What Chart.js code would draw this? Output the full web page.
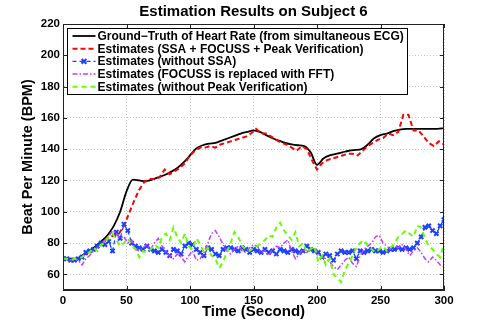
<!DOCTYPE html>
<html>
<head>
<meta charset="utf-8">
<script src="https://cdn.jsdelivr.net/npm/chart.js@4.4.1/dist/chart.umd.min.js"></script>
<style>
  html, body { margin: 0; padding: 0; background: #fff; }
</style>
</head>
<body>
<canvas id="myChart" width="491" height="327"></canvas>
<script>
const FONT = '"Liberation Sans", Arial, Helvetica, sans-serif';

const xTicks = [0, 50, 100, 150, 200, 250, 300];
const yTicks = [60, 80, 100, 120, 140, 160, 180, 200, 220];

const labels = [
  'Ground\u2212Truth of Heart Rate (from simultaneous ECG)',
  'Estimates (SSA + FOCUSS + Peak Verification)',
  'Estimates (without SSA)',
  'Estimates (FOCUSS is replaced with FFT)',
  'Estimates (without Peak Verification)'
];

// ground truth, every 5 s
const tGt = [0, 5, 10, 15, 20, 25, 30, 35, 40, 45,
  50, 55, 60, 65, 70, 75, 80, 85, 90, 95,
  100, 105, 110, 115, 120, 125, 130, 135, 140, 145,
  150, 155, 160, 165, 170, 175, 180, 185, 190, 195,
  200, 205, 210, 215, 220, 225, 230, 235, 240, 245,
  250, 255, 260, 265, 270, 275, 280, 285, 290, 295, 300];
const gt = [70, 70, 70, 72, 74.5, 77.5, 81, 85, 91, 100,
  113, 120.5, 120, 119.5, 120.5, 122, 123.5, 125.5, 128, 131.5,
  136, 140.5, 142.5, 143.5, 144, 145.5, 147, 148.5, 150, 151,
  152, 151, 149, 147, 145.5, 144, 143, 142.5, 142, 138,
  130, 134, 136, 137, 138, 139, 139.5, 140, 143, 147,
  149, 150, 151.5, 152.5, 153, 153, 153, 153, 153, 153, 153.5];

// SSA + FOCUSS + peak verification, every 4 s
const tRed = [0, 4, 8, 12, 16, 20, 24, 28, 32, 36,
  40, 44, 48, 52, 56, 60, 64, 68, 72, 76,
  80, 84, 88, 92, 96, 100, 104, 108, 112, 116,
  120, 124, 128, 132, 136, 140, 144, 148, 152, 156,
  160, 164, 168, 172, 176, 180, 184, 188, 192, 196,
  200, 204, 208, 212, 216, 220, 224, 228, 232, 236,
  240, 244, 248, 252, 256, 260, 264, 268, 272, 276,
  280, 284, 288, 292, 296, 300];
const red = [70, 70, 69, 70, 71, 74, 76, 79, 81, 83,
  85, 86, 91, 99, 107, 114, 119, 121, 121, 122,
  127, 124, 126, 128, 131, 136, 139, 141, 141, 142,
  141, 143, 144, 145, 146, 147, 148, 150, 153, 150,
  150, 148, 146, 144, 143, 141, 139, 142, 140, 133,
  127, 131, 133, 134, 135, 136, 137, 137, 136, 139,
  142, 144, 146, 147, 150, 149, 151, 162, 162, 152,
  152, 148, 144, 142, 145, 143];

// the three other estimates, every 3 s
const tEst = [0, 3, 6, 9, 12, 15, 18, 21, 24, 27,
  30, 33, 36, 39, 42, 45, 48, 51, 54, 57,
  60, 63, 66, 69, 72, 75, 78, 81, 84, 87,
  90, 93, 96, 99, 102, 105, 108, 111, 114, 117,
  120, 123, 126, 129, 132, 135, 138, 141, 144, 147,
  150, 153, 156, 159, 162, 165, 168, 171, 174, 177,
  180, 183, 186, 189, 192, 195, 198, 201, 204, 207,
  210, 213, 216, 219, 222, 225, 228, 231, 234, 237,
  240, 243, 246, 249, 252, 255, 258, 261, 264, 267,
  270, 273, 276, 279, 282, 285, 288, 291, 294, 297, 300];
const noSsa = [70, 70, 69, 69, 70, 71, 74, 75, 76, 78,
  80, 79, 81, 75, 87, 83, 92, 88, 80, 78,
  77, 76, 78, 76, 75, 74, 76, 74, 72, 76,
  75, 73, 78, 80, 79, 76, 74, 72, 77, 76,
  73, 72, 76, 77, 77, 76, 75, 77, 76, 74,
  76, 75, 74, 76, 74, 75, 73, 76, 75, 74,
  76, 75, 74, 75, 78, 76, 75, 74, 71, 73,
  72, 69, 73, 75, 74, 74, 75, 70, 75, 74,
  75, 76, 75, 75, 74, 75, 76, 76, 77, 76,
  77, 76, 77, 80, 84, 90, 91, 88, 86, 91, 95];
const fft = [70, 70, 69, 70, 69, 66, 70, 72, 75, 77,
  79, 81, 84, 88, 86, 83, 84, 80, 82, 76,
  75, 77, 79, 76, 80, 83, 78, 74, 72, 70,
  73, 71, 68, 72, 75, 69, 70, 74, 80, 86,
  88, 84, 79, 75, 73, 76, 78, 75, 74, 77,
  79, 78, 74, 75, 72, 76, 78, 77, 80, 82,
  75, 70, 73, 76, 74, 77, 76, 73, 71, 70,
  68, 65, 63, 66, 69, 71, 67, 65, 72, 76,
  78, 80, 84, 85, 80, 78, 76, 78, 77, 79,
  76, 72, 75, 77, 74, 70, 68, 71, 69, 66, 65];
const noPv = [70, 70, 69, 70, 70, 71, 73, 74, 77, 75,
  79, 80, 84, 86, 82, 78, 80, 83, 79, 76,
  71, 75, 74, 76, 79, 77, 84, 86, 82, 90,
  84, 80, 86, 78, 76, 83, 79, 74, 77, 72,
  70, 64, 68, 74, 80, 87, 84, 78, 76, 75,
  77, 78, 80, 82, 85, 84, 90, 93, 88, 85,
  82, 87, 78, 80, 74, 76, 78, 68, 72, 66,
  70, 60, 58, 55, 63, 67, 72, 77, 80, 82,
  78, 76, 74, 76, 78, 75, 77, 80, 84, 86,
  88, 86, 84, 91, 90, 83, 78, 76, 73, 71, 80];

function pts(t, v) {
  return t.map((x, i) => ({ x: x, y: v[i] }));
}

// matlab style box, inward ticks and legend inside the axes
const matlabBox = {
  id: 'matlabBox',
  afterDraw(chart) {
    const { ctx, chartArea: a, scales } = chart;
    ctx.save();
    ctx.strokeStyle = '#222';
    ctx.lineWidth = 1;
    ctx.setLineDash([]);
    ctx.beginPath();
    xTicks.forEach(v => {
      const px = Math.round(scales.x.getPixelForValue(v)) + 0.5;
      ctx.moveTo(px, a.bottom); ctx.lineTo(px, a.bottom - 4);
      ctx.moveTo(px, a.top); ctx.lineTo(px, a.top + 4);
    });
    yTicks.forEach(v => {
      const py = Math.round(scales.y.getPixelForValue(v)) + 0.5;
      ctx.moveTo(a.left, py); ctx.lineTo(a.left + 4, py);
      ctx.moveTo(a.right, py); ctx.lineTo(a.right - 4, py);
    });
    ctx.stroke();
    ctx.strokeRect(Math.round(a.left) + 0.5, Math.round(a.top) + 0.5,
      Math.round(a.width) - 1, Math.round(a.height) - 1);

    // legend
    const sets = chart.data.datasets;
    ctx.font = 'bold 12px ' + FONT;
    const tw = Math.max(...sets.map(d => ctx.measureText(d.label).width));
    const bx = Math.round(a.left) + 4.5, by = Math.round(a.top) + 4.5, rowH = 12.7;
    const bw = Math.round(31 + tw + 3), bh = Math.round(sets.length * rowH + 2);
    ctx.fillStyle = '#fff';
    ctx.fillRect(bx, by, bw, bh);
    ctx.strokeStyle = '#000';
    ctx.strokeRect(bx, by, bw, bh);
    sets.forEach((d, i) => {
      const cy = by + 7.5 + i * rowH;
      ctx.strokeStyle = d.borderColor;
      ctx.lineWidth = d.borderWidth;
      ctx.setLineDash(d.borderDash || []);
      ctx.beginPath();
      ctx.moveTo(bx + 5, cy);
      ctx.lineTo(bx + 28, cy);
      ctx.stroke();
      ctx.setLineDash([]);
      if (d.pointStyle === 'crossRot') {
        const cx = bx + 16.5, r = 2.4;
        ctx.lineWidth = d.pointBorderWidth;
        ctx.beginPath();
        ctx.moveTo(cx - r, cy - r); ctx.lineTo(cx + r, cy + r);
        ctx.moveTo(cx - r, cy + r); ctx.lineTo(cx + r, cy - r);
        ctx.stroke();
      }
      ctx.fillStyle = '#000';
      ctx.textBaseline = 'middle';
      ctx.textAlign = 'left';
      ctx.fillText(d.label, bx + 30, cy + 0.5);
    });
    ctx.restore();
  }
};

const tickFont = { family: FONT, size: 11.5, weight: 'bold' };

new Chart(document.getElementById('myChart'), {
  type: 'line',
  data: {
    datasets: [
      {
        label: labels[0],
        data: pts(tGt, gt),
        borderColor: '#000000',
        borderWidth: 1.8,
        pointRadius: 0,
        cubicInterpolationMode: 'monotone',
        order: 5
      },
      {
        label: labels[1],
        data: pts(tRed, red),
        borderColor: '#ff0000',
        borderWidth: 2,
        borderDash: [5, 3],
        pointRadius: 0,
        order: 4
      },
      {
        label: labels[2],
        data: pts(tEst, noSsa),
        borderColor: '#2040ff',
        borderWidth: 1.3,
        borderDash: [4, 3],
        pointStyle: 'crossRot',
        pointRadius: 3,
        pointBorderWidth: 2,
        pointBorderColor: '#2040ff',
        order: 3
      },
      {
        label: labels[3],
        data: pts(tEst, fft),
        borderColor: '#c040ff',
        borderWidth: 1.5,
        borderDash: [5, 2, 1.5, 2],
        pointRadius: 0,
        order: 2
      },
      {
        label: labels[4],
        data: pts(tEst, noPv),
        borderColor: '#66ff00',
        borderWidth: 2,
        borderDash: [5, 4],
        pointRadius: 0,
        order: 1
      }
    ]
  },
  options: {
    responsive: false,
    animation: false,
    layout: { padding: { left: 0, right: 47, top: 0, bottom: 0 } },
    plugins: {
      legend: { display: false },
      tooltip: { enabled: false },
      title: {
        display: true,
        fullSize: false,
        text: 'Estimation Results on Subject 6',
        color: '#000',
        font: { family: FONT, size: 15, weight: 'bold' },
        padding: { top: 3, bottom: 3 }
      }
    },
    scales: {
      x: {
        type: 'linear',
        min: 0,
        max: 300,
        afterBuildTicks: s => { s.ticks = xTicks.map(v => ({ value: v })); },
        afterFit: s => { s.height = 37; },
        grid: { color: '#c4c4c4', lineWidth: 1, drawTicks: false },
        border: { color: '#222', dash: [1, 2] },
        ticks: { color: '#000', font: tickFont, padding: 4, maxRotation: 0, autoSkip: false },
        title: {
          display: true,
          text: 'Time (Second)',
          color: '#000',
          font: { family: FONT, size: 15, weight: 'bold' },
          padding: { top: 0, bottom: 6 }
        }
      },
      y: {
        type: 'linear',
        min: 50,
        max: 220,
        afterBuildTicks: s => { s.ticks = yTicks.map(v => ({ value: v })); },
        afterFit: s => { s.width = 63; },
        grid: { color: '#c4c4c4', lineWidth: 1, drawTicks: false },
        border: { color: '#222', dash: [1, 2] },
        ticks: { color: '#000', font: tickFont, padding: 3, autoSkip: false },
        title: {
          display: true,
          text: 'Beat Per Minute (BPM)',
          color: '#000',
          font: { family: FONT, size: 14.5, weight: 'bold' },
          padding: { top: 19.5, bottom: 0 }
        }
      }
    }
  },
  plugins: [matlabBox]
});
</script>
</body>
</html>
